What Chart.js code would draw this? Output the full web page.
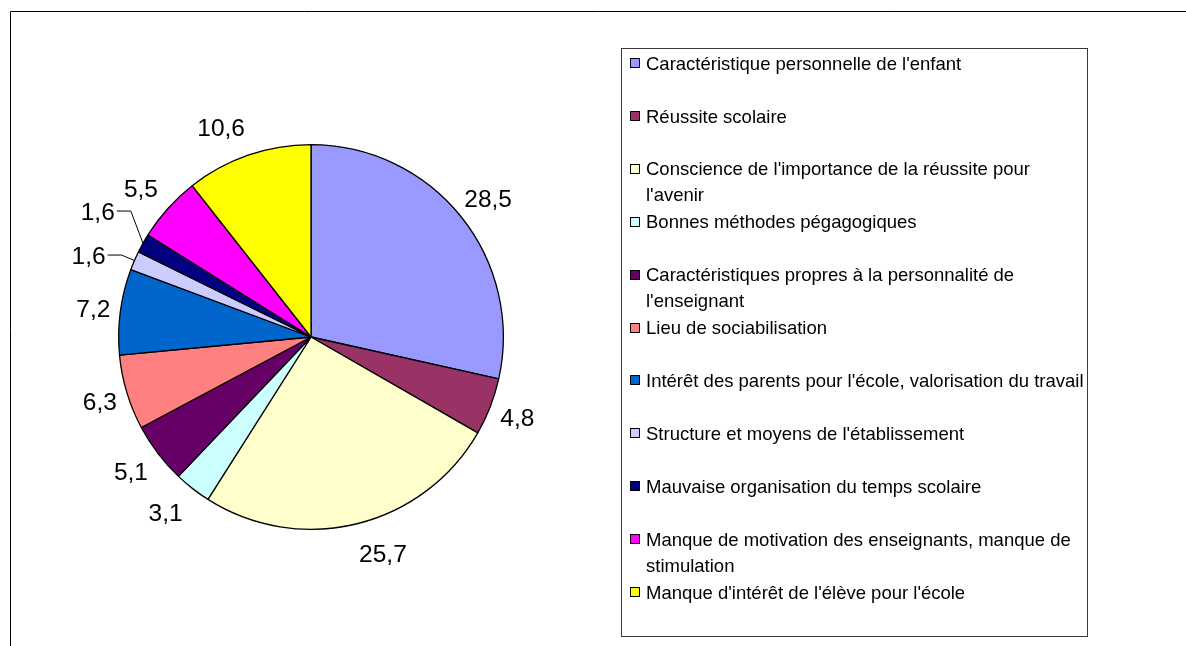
<!DOCTYPE html>
<html>
<head>
<meta charset="utf-8">
<style>
html,body{margin:0;padding:0;background:#fff;}
#wrap{width:1186px;height:646px;position:relative;overflow:hidden;}
canvas{display:block;}
</style>
<script src="https://cdn.jsdelivr.net/npm/chart.js@4.4.1/dist/chart.umd.min.js"></script>
</head>
<body>
<div id="wrap"><canvas id="c" width="1186" height="646"></canvas></div>
<script>
const categories = [
  "Caractéristique personnelle de l'enfant",
  "Réussite scolaire",
  "Conscience de l'importance de la réussite pour l'avenir",
  "Bonnes méthodes pégagogiques",
  "Caractéristiques propres à la personnalité de l'enseignant",
  "Lieu de sociabilisation",
  "Intérêt des parents pour l'école, valorisation du travail",
  "Structure et moyens de l'établissement",
  "Mauvaise organisation du temps scolaire",
  "Manque de motivation des enseignants, manque de stimulation",
  "Manque d'intérêt de l'élève pour l'école"
];
const values = [28.5, 4.8, 25.7, 3.1, 5.1, 6.3, 7.2, 1.6, 1.6, 5.5, 10.6];
const colors = ["#9999FF", "#993366", "#FFFFCC", "#CCFFFF", "#660066", "#FF8080",
                "#0066CC", "#CCCCFF", "#000080", "#FF00FF", "#FFFF00"];

const FONT = '"Liberation Sans", Arial, sans-serif';
const LABEL_FS = 24.5;
const LEGEND_FS = 18.5;

function fmt(v){ return String(v).replace('.', ','); }

const decorPlugin = {
  id: 'decor',
  beforeDraw(chart){
    const ctx = chart.ctx;
    ctx.save();
    ctx.fillStyle = '#ffffff';
    ctx.fillRect(0, 0, chart.width, chart.height);
    ctx.restore();
  },
  afterDatasetsDraw(chart){
    const ctx = chart.ctx;
    const meta = chart.getDatasetMeta(0);
    ctx.save();
    ctx.font = LABEL_FS + 'px ' + FONT;
    ctx.fillStyle = '#000';
    ctx.strokeStyle = '#000';
    ctx.lineWidth = 1;
    const minGap = 44;
    let prevY = null;
    meta.data.forEach((arc, i) => {
      const p = arc.getProps(['x','y','startAngle','endAngle','outerRadius'], true);
      const mid = (p.startAngle + p.endAngle) / 2;
      const c = Math.cos(mid), s = Math.sin(mid);
      const txt = fmt(values[i]);
      const ax = p.x + c*p.outerRadius, ay = p.y + s*p.outerRadius;
      if (values[i] >= 2) {
        const ox = 27 * Math.max(-1, Math.min(1, c*4));
        const oy = 30 * s;
        ctx.textAlign = 'center';
        ctx.textBaseline = 'alphabetic';
        ctx.fillText(txt, ax + ox, ay + oy + 0.36*LABEL_FS);
      } else {
        let ex = p.x + c*(p.outerRadius+14), ey = p.y + s*(p.outerRadius+14);
        if (prevY !== null && Math.abs(ey - prevY) < minGap) {
          const dirY = (ey - prevY) <= 0 ? -1 : 1;
          ey = prevY + dirY*minGap;
        }
        prevY = ey;
        const dir = c < 0 ? -1 : 1;
        ctx.beginPath();
        ctx.moveTo(ax, ay);
        ctx.lineTo(ex, ey);
        ctx.lineTo(ex + dir*14, ey);
        ctx.stroke();
        ctx.textAlign = dir < 0 ? 'right' : 'left';
        ctx.textBaseline = 'alphabetic';
        ctx.fillText(txt, ex + dir*16, ey + 0.36*LABEL_FS);
      }
    });
    ctx.restore();
  },
  afterDraw(chart){
    const ctx = chart.ctx;
    ctx.save();
    // outer chart frame
    ctx.strokeStyle = '#000';
    ctx.lineWidth = 1;
    ctx.beginPath();
    ctx.moveTo(10.5, chart.height + 5);
    ctx.lineTo(10.5, 11.5);
    ctx.lineTo(chart.width + 5, 11.5);
    ctx.stroke();

    // legend box
    const L = 621.5, T = 48.5, R = 1087.5, B = 636.5;
    ctx.strokeStyle = '#3a3a3a';
    ctx.strokeRect(L, T, R - L, B - T);

    ctx.font = LEGEND_FS + 'px ' + FONT;
    ctx.textAlign = 'left';
    ctx.textBaseline = 'alphabetic';
    const textX = 646, markX = 630, markS = 10;
    const maxW = R - textX - 2;
    const step = 52.9, lineH = 26, first = T + 14.5;
    categories.forEach((lab, i) => {
      const cy = first + i*step;
      ctx.fillStyle = colors[i];
      ctx.fillRect(markX, Math.round(cy - markS/2), markS, markS);
      ctx.strokeStyle = '#000';
      ctx.strokeRect(markX + 0.5, Math.round(cy - markS/2) + 0.5, markS - 1, markS - 1);
      const words = lab.split(' ');
      const lines = [];
      let cur = '';
      words.forEach(w => {
        const test = cur ? cur + ' ' + w : w;
        if (ctx.measureText(test).width > maxW && cur) { lines.push(cur); cur = w; }
        else cur = test;
      });
      if (cur) lines.push(cur);
      ctx.fillStyle = '#000';
      lines.forEach((ln, k) => {
        ctx.fillText(ln, textX, cy + k*lineH + 0.36*LEGEND_FS);
      });
    });
    ctx.restore();
  }
};

new Chart(document.getElementById('c'), {
  type: 'pie',
  data: {
    labels: categories,
    datasets: [{
      data: values,
      backgroundColor: colors,
      borderColor: '#000',
      borderWidth: 1.3
    }]
  },
  options: {
    responsive: false,
    animation: false,
    events: [],
    layout: { padding: { left: 118, top: 144, right: 682, bottom: 116 } },
    plugins: {
      legend: { display: false },
      tooltip: { enabled: false }
    }
  },
  plugins: [decorPlugin]
});
</script>
</body>
</html>
